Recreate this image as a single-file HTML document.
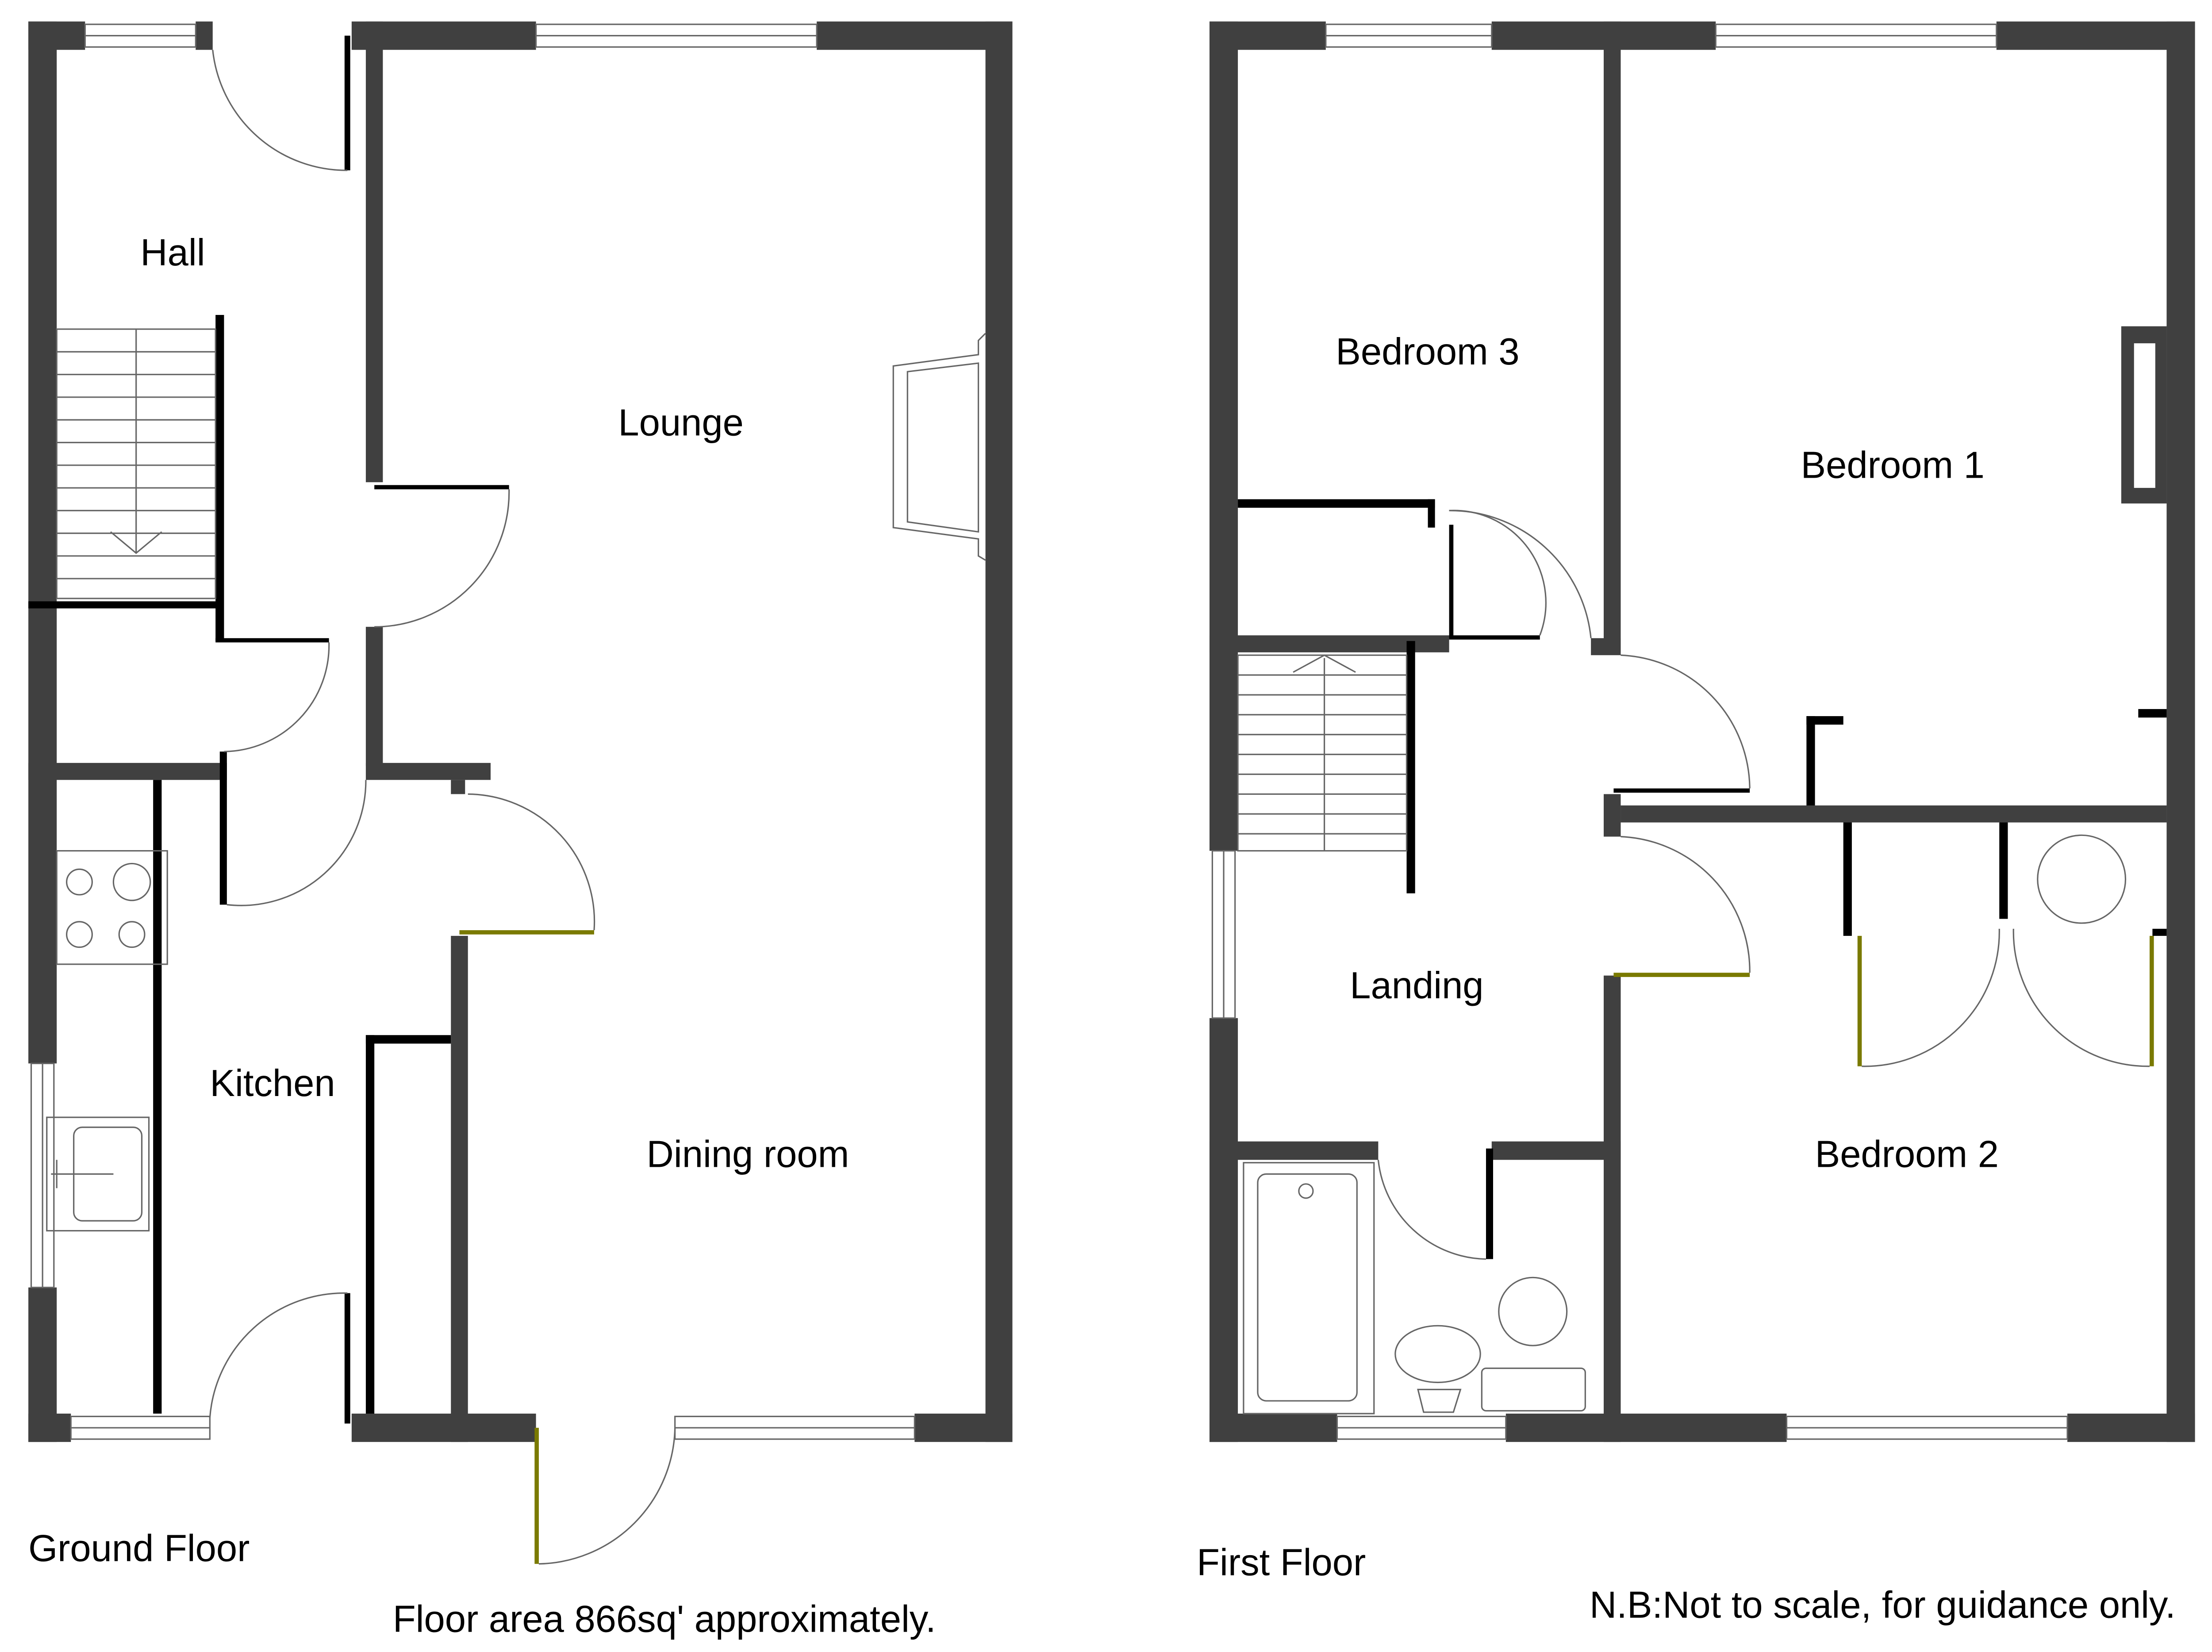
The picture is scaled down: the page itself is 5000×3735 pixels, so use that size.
<!DOCTYPE html>
<html><head><meta charset="utf-8"><style>html,body{margin:0;padding:0;background:#fff}svg{display:block}</style></head>
<body>
<svg width="5000" height="3735" viewBox="0 0 1560 1165" xmlns="http://www.w3.org/2000/svg">
<g fill="#404040">
<rect x="20" y="15" width="20" height="735"/>
<rect x="20" y="908" width="20" height="109"/>
<rect x="20" y="15" width="40" height="20"/>
<rect x="138" y="15" width="12" height="20"/>
<rect x="248" y="15" width="130" height="20"/>
<rect x="576" y="15" width="138" height="20"/>
<rect x="695" y="15" width="19" height="1002"/>
<rect x="20" y="997" width="30" height="20"/>
<rect x="248" y="997" width="130" height="20"/>
<rect x="645" y="997" width="69" height="20"/>
<rect x="258" y="15" width="12" height="325"/>
<rect x="258" y="442" width="12" height="98"/>
<rect x="258" y="538" width="88" height="12"/>
<rect x="318" y="550" width="10" height="10"/>
<rect x="318" y="660" width="12" height="357"/>
<rect x="20" y="538" width="140" height="12"/>
<rect x="853" y="15" width="20" height="585"/>
<rect x="853" y="718" width="20" height="299"/>
<rect x="853" y="15" width="82" height="20"/>
<rect x="1052" y="15" width="158" height="20"/>
<rect x="1408" y="15" width="140" height="20"/>
<rect x="1528" y="15" width="20" height="1002"/>
<rect x="853" y="997" width="90" height="20"/>
<rect x="1062" y="997" width="198" height="20"/>
<rect x="1458" y="997" width="90" height="20"/>
<rect x="1131" y="15" width="12" height="445"/>
<rect x="1122" y="450" width="21" height="12"/>
<rect x="1143" y="568" width="385" height="12"/>
<rect x="1131" y="560" width="12" height="30"/>
<rect x="1131" y="688" width="12" height="329"/>
<rect x="853" y="448" width="169" height="12"/>
<rect x="853" y="805" width="119" height="13"/>
<rect x="1052" y="805" width="91" height="13"/>
<rect x="1496" y="230" width="32" height="125"/>
</g>
<rect x="1505" y="242" width="15" height="102" fill="#fff"/>
<g fill="#000">
<rect x="152" y="222" width="6" height="230"/>
<rect x="20" y="424" width="134" height="5"/>
<rect x="108" y="550" width="6" height="447"/>
<rect x="258" y="730" width="6" height="267"/>
<rect x="258" y="730" width="60" height="6"/>
<rect x="155" y="530" width="5" height="108"/>
<rect x="152" y="450" width="80" height="3"/>
<rect x="264" y="342" width="95" height="3"/>
<rect x="873" y="352" width="139" height="6"/>
<rect x="1007" y="352" width="5" height="20"/>
<rect x="1022" y="370" width="3" height="80"/>
<rect x="1022" y="448" width="64" height="3"/>
<rect x="992" y="452" width="6" height="178"/>
<rect x="1048" y="810" width="5" height="78"/>
<rect x="1138" y="556" width="96" height="3"/>
<rect x="1300" y="580" width="6" height="80"/>
<rect x="1410" y="580" width="6" height="68"/>
<rect x="1274" y="505" width="6" height="63"/>
<rect x="1274" y="505" width="26" height="6"/>
<rect x="1508" y="500" width="20" height="6"/>
<rect x="1518" y="655" width="10" height="5"/>
<rect x="243" y="25" width="4" height="95"/>
<rect x="243" y="912" width="4" height="92"/>
</g>
<g fill="#7a7a00">
<rect x="324" y="656" width="95" height="3"/>
<rect x="377" y="1007" width="3" height="96"/>
<rect x="1138" y="686" width="96" height="3"/>
<rect x="1310" y="660" width="3" height="92"/>
<rect x="1516" y="660" width="3" height="92"/>
</g>
<g fill="none" stroke="#666" stroke-width="1">
<rect x="60" y="17" width="78" height="16"/><line x1="60" y1="25" x2="138" y2="25"/>
<rect x="378" y="17" width="198" height="16"/><line x1="378" y1="25" x2="576" y2="25"/>
<rect x="50" y="999" width="98" height="16"/><line x1="50" y1="1007" x2="148" y2="1007"/>
<rect x="476" y="999" width="169" height="16"/><line x1="476" y1="1007" x2="645" y2="1007"/>
<rect x="22" y="750" width="16" height="158"/><line x1="30" y1="750" x2="30" y2="908"/>
<rect x="935" y="17" width="117" height="16"/><line x1="935" y1="25" x2="1052" y2="25"/>
<rect x="1210" y="17" width="198" height="16"/><line x1="1210" y1="25" x2="1408" y2="25"/>
<rect x="943" y="999" width="119" height="16"/><line x1="943" y1="1007" x2="1062" y2="1007"/>
<rect x="1260" y="999" width="198" height="16"/><line x1="1260" y1="1007" x2="1458" y2="1007"/>
<rect x="855" y="600" width="16" height="118"/><line x1="863" y1="600" x2="863" y2="718"/>
<path d="M150 35 A95 95 0 0 0 245 120"/>
<path d="M359 345 A95 95 0 0 1 264 442"/>
<path d="M232 453 A75 75 0 0 1 158 530"/>
<path d="M258 550 A88 88 0 0 1 160 638"/>
<path d="M330 560 A90 90 0 0 1 419 656"/>
<path d="M148 1000 A95 95 0 0 1 245 912"/>
<path d="M476 1007 A98 98 0 0 1 380 1103"/>
<path d="M1022 360 A65 65 0 0 1 1086 448"/>
<path d="M1022 360 A100 100 0 0 1 1122 450"/>
<path d="M1143 462 A95 95 0 0 1 1234 556"/>
<path d="M1143 590 A95 95 0 0 1 1234 686"/>
<path d="M972 818 A78 78 0 0 0 1048 888"/>
<path d="M1313 752 A95 95 0 0 0 1410 655"/>
<path d="M1516 752 A95 95 0 0 1 1420 655"/>
<rect x="40" y="232" width="112" height="190"/>
<path d="M40 248H152M40 264H152M40 280H152M40 296H152M40 312H152M40 328H152M40 344H152M40 360H152M40 376H152M40 392H152M40 408H152"/>
<path d="M96 232V390M78 375L96 390L114 375"/>
<rect x="873" y="462" width="119" height="138"/>
<path d="M873 476H992M873 490H992M873 504H992M873 518H992M873 532H992M873 546H992M873 560H992M873 574H992M873 588H992"/>
<path d="M934 600V464M912 474L934 462L956 474"/>
<path d="M695 235L690 240V250L630 258V372L690 380V392L695 395"/>
<path d="M640 262V368L690 375V256Z"/>
<rect x="40" y="600" width="78" height="80"/>
<circle cx="56" cy="622" r="9"/><circle cx="93" cy="622" r="13"/>
<circle cx="56" cy="659" r="9"/><circle cx="93" cy="659" r="9"/>
<rect x="33" y="788" width="72" height="80"/>
<rect x="52" y="795" width="48" height="66" rx="6"/>
<path d="M36 828H80M40 818V838"/>
<rect x="877" y="820" width="92" height="177"/>
<rect x="887" y="828" width="70" height="160" rx="6"/>
<circle cx="921" cy="840" r="5"/>
<ellipse cx="1014" cy="955" rx="30" ry="20"/>
<path d="M1000 980H1030L1025 996H1004Z"/>
<ellipse cx="1081" cy="925" rx="24" ry="24"/>
<rect x="1045" y="965" width="73" height="30" rx="3"/>
<circle cx="1468" cy="620" r="31"/>
</g>
<g font-family="Liberation Sans, sans-serif" font-size="26.5" fill="#000">
<text x="99" y="187">Hall</text>
<text x="436" y="307">Lounge</text>
<text x="148" y="773">Kitchen</text>
<text x="456" y="823">Dining room</text>
<text x="20" y="1101">Ground Floor</text>
<text x="277" y="1151">Floor area 866sq' approximately.</text>
<text x="942" y="257">Bedroom 3</text>
<text x="1270" y="337">Bedroom 1</text>
<text x="952" y="704">Landing</text>
<text x="1280" y="823">Bedroom 2</text>
<text x="844" y="1111">First Floor</text>
<text x="1121" y="1141">N.B:Not to scale, for guidance only.</text>
</g>
</svg>
</body></html>
